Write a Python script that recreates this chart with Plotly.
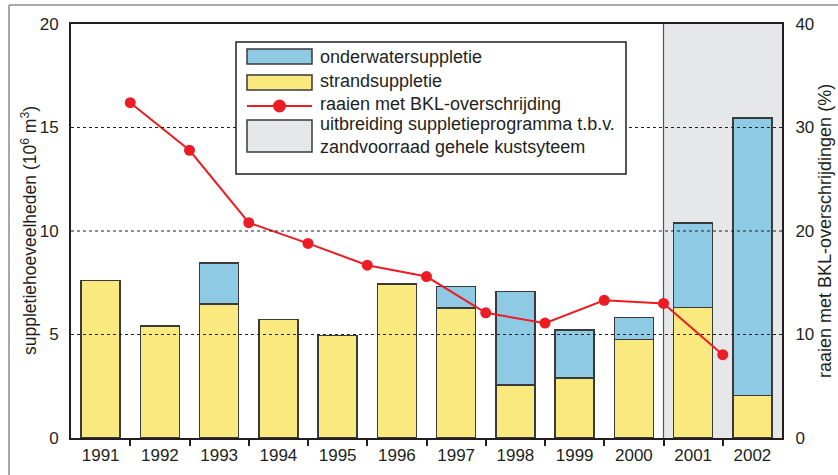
import plotly.graph_objects as go

# ---- data ----
years = ["1991", "1992", "1993", "1994", "1995", "1996",
         "1997", "1998", "1999", "2000", "2001", "2002"]
strand = [7.6, 5.42, 6.47, 5.73, 4.95, 7.43, 6.27, 2.56, 2.9, 4.76, 6.3, 2.05]
onderwater = [None, None, 1.99, None, None, None, 1.06, 4.51, 2.31, 1.06, 4.09, 13.41]
bkl = [32.4, 27.8, 20.8, 18.8, 16.7, 15.6, 12.1, 11.1, 13.3, 13.0, 8.05]
left_ticks = [0, 5, 10, 15, 20]
right_ticks = [0, 10, 20, 30, 40]
grid_vals = [5, 10, 15]
program_start = "2001"

left_title = "suppletiehoeveelheden (10<sup>6</sup> m<sup>3</sup>)"
right_title = "raaien met BKL-overschrijdingen (%)"
legend_labels = ["onderwatersuppletie", "strandsuppletie",
                 "raaien met BKL-overschrijding",
                 "uitbreiding suppletieprogramma t.b.v.<br>zandvoorraad gehele kustsyteem"]

# ---- style ----
YELLOW = "#F9E97E"
BLUE = "#8FCAE4"
GREY = "#E6E7E9"
RED = "#ED1C24"
EDGE = "#3A3A3A"
INK = "#231F20"
FONT = "Liberation Sans, Arial, sans-serif"

W, H = 838, 475
L, R, T, B = 71, 782, 24, 438


def px2x(px):
    return (px - L) / (R - L)


def py2y(py):
    return (B - py) / (B - T)


xpos = list(range(len(years)))
line_x = [i + 0.5 for i in range(len(bkl))]

fig = go.Figure()
fig.add_trace(go.Bar(x=xpos, y=strand, width=0.66, marker=dict(color=YELLOW, line=dict(color=EDGE, width=1.5)),
                     name="strandsuppletie", showlegend=False))
fig.add_trace(go.Bar(x=xpos, y=onderwater, width=0.66, marker=dict(color=BLUE, line=dict(color=EDGE, width=1.5)),
                     name="onderwatersuppletie", showlegend=False))
fig.add_trace(go.Scatter(x=line_x, y=bkl, yaxis="y2", mode="lines+markers",
                         line=dict(color=RED, width=2), marker=dict(color=RED, size=11),
                         name="raaien met BKL-overschrijding", showlegend=False))

shapes = []
# grey shaded program extension
xs = years.index(program_start) - 0.5
shapes.append(dict(type="rect", xref="x", yref="paper", x0=xs, x1=len(years) - 0.5, y0=0, y1=1,
                   fillcolor=GREY, line=dict(width=0), layer="below"))
shapes.append(dict(type="line", xref="x", yref="paper", x0=xs, x1=xs, y0=0, y1=1,
                   line=dict(color="#555555", width=1.2), layer="below"))
# dotted gridlines above bars
for g in grid_vals:
    shapes.append(dict(type="line", xref="paper", yref="y", x0=0, x1=1, y0=g, y1=g,
                       line=dict(color=INK, width=1, dash="dot"), layer="above"))
# outer grey frame
shapes.append(dict(type="line", xref="paper", yref="paper", x0=px2x(9), x1=px2x(9), y0=py2y(5), y1=py2y(480),
                   line=dict(color="#8C8C8C", width=1.5)))
shapes.append(dict(type="line", xref="paper", yref="paper", x0=px2x(9), x1=px2x(845), y0=py2y(5), y1=py2y(5),
                   line=dict(color="#8C8C8C", width=1.5)))

# manual legend
shapes.append(dict(type="rect", xref="paper", yref="paper", x0=px2x(236), x1=px2x(626), y0=py2y(174), y1=py2y(42),
                   fillcolor="white", line=dict(color=INK, width=1.5), layer="above"))
sw_x0, sw_x1 = px2x(247), px2x(312)
shapes.append(dict(type="rect", xref="paper", yref="paper", x0=sw_x0, x1=sw_x1, y0=py2y(64), y1=py2y(49),
                   fillcolor=BLUE, line=dict(color=EDGE, width=1.5), layer="above"))
shapes.append(dict(type="rect", xref="paper", yref="paper", x0=sw_x0, x1=sw_x1, y0=py2y(90), y1=py2y(75),
                   fillcolor=YELLOW, line=dict(color=EDGE, width=1.5), layer="above"))
shapes.append(dict(type="line", xref="paper", yref="paper", x0=sw_x0, x1=sw_x1, y0=py2y(106), y1=py2y(106),
                   line=dict(color=RED, width=2), layer="above"))
shapes.append(dict(type="circle", xref="paper", yref="paper",
                   x0=px2x(279.5 - 6.5), x1=px2x(279.5 + 6.5), y0=py2y(106 + 6.5), y1=py2y(106 - 6.5),
                   fillcolor=RED, line=dict(width=0), layer="above"))
shapes.append(dict(type="rect", xref="paper", yref="paper", x0=sw_x0, x1=sw_x1, y0=py2y(152), y1=py2y(120),
                   fillcolor=GREY, line=dict(color=EDGE, width=1.5), layer="above"))

annotations = []
for lab, cy in zip(legend_labels, [57, 81, 104, 135.5]):
    annotations.append(dict(xref="paper", yref="paper", x=px2x(318), y=py2y(cy), xanchor="left", yanchor="middle",
                            text=lab, showarrow=False, align="left",
                            font=dict(family=FONT, size=18, color=INK)))
# axis titles
annotations.append(dict(xref="paper", yref="paper", x=px2x(29), y=0.5, xanchor="center", yanchor="middle",
                        text=left_title, textangle=-90, showarrow=False,
                        font=dict(family=FONT, size=17.5, color=INK)))
annotations.append(dict(xref="paper", yref="paper", x=px2x(825), y=0.5, xanchor="center", yanchor="middle",
                        text=right_title, textangle=-90, showarrow=False,
                        font=dict(family=FONT, size=18, color=INK)))

fig.update_layout(
    width=W, height=H,
    margin=dict(l=L, r=W - R, t=T, b=H - B, pad=0, autoexpand=False),
    paper_bgcolor="white", plot_bgcolor="white",
    barmode="stack", bargap=0.34,
    font=dict(family=FONT, size=17, color=INK),
    shapes=shapes, annotations=annotations,
    xaxis=dict(range=[-0.5, len(years) - 0.5], tickmode="array", tickvals=xpos, ticktext=years,
               ticks="", showgrid=False, zeroline=False, showline=True, mirror=True, automargin=False,
               linecolor=INK, linewidth=2, tickfont=dict(size=17, color=INK), ticklabelstandoff=1,
               minor=dict(tickmode="array", tickvals=line_x, ticks="outside", ticklen=6,
                          tickwidth=1.5, tickcolor=INK, showgrid=False)),
    yaxis=dict(range=[0, 20], tickmode="array", tickvals=left_ticks, ticks="", showgrid=False,
               zeroline=False, showline=True, linecolor=INK, linewidth=2, automargin=False,
               tickfont=dict(size=17, color=INK), ticklabelstandoff=7),
    yaxis2=dict(range=[0, 40], tickmode="array", tickvals=right_ticks, overlaying="y", side="right",
                ticks="", showgrid=False, zeroline=False, showline=True, linecolor=INK, linewidth=2,
                automargin=False, tickfont=dict(size=17, color=INK), ticklabelstandoff=8),
)

fig.write_html("out.html", config={"displayModeBar": False},
               post_script="document.body.style.margin='0';document.body.style.overflow='hidden';")
